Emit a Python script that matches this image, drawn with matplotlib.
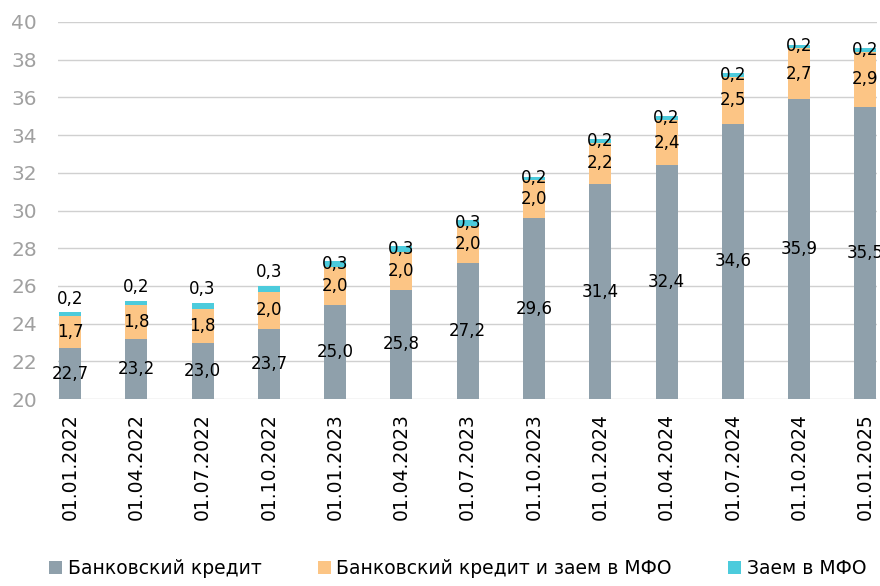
#! /usr/bin/env python3

import numpy as np
import matplotlib.pyplot as plt

# Stacked bars: bank credit, bank credit + MFO loan, MFO loan (from 20 baseline)
dates = ["01.01.2022", "01.04.2022", "01.07.2022", "01.10.2022",
         "01.01.2023", "01.04.2023", "01.07.2023", "01.10.2023",
         "01.01.2024", "01.04.2024", "01.07.2024", "01.10.2024",
         "01.01.2025"]
bank = [22.7, 23.2, 23.0, 23.7, 25.0, 25.8, 27.2, 29.6, 31.4, 32.4, 34.6, 35.9, 35.5]
bank_mfo = [1.7, 1.8, 1.8, 2.0, 2.0, 2.0, 2.0, 2.0, 2.2, 2.4, 2.5, 2.7, 2.9]
mfo = [0.2, 0.2, 0.3, 0.3, 0.3, 0.3, 0.3, 0.2, 0.2, 0.2, 0.2, 0.2, 0.2]
series_names = ["Банковский кредит", "Банковский кредит и заем в МФО", "Заем в МФО"]

colors = ["#8fa0ab", "#fcc585", "#4ccbdc"]
base = 20

plt.rcParams['font.family'] = ['DejaVu Sans']

fig = plt.figure(figsize=(8.8, 5.86), dpi=100)
ax = fig.add_axes([0.066, 0.319, 0.931, 0.6435])

x = np.arange(len(dates))
w = 0.33
bank = np.array(bank)
bank_mfo = np.array(bank_mfo)
mfo = np.array(mfo)

ax.bar(x, bank - base, w, bottom=base, color=colors[0], label=series_names[0], zorder=3)
ax.bar(x, bank_mfo, w, bottom=bank, color=colors[1], label=series_names[1], zorder=3)
ax.bar(x, mfo, w, bottom=bank + bank_mfo, color=colors[2], label=series_names[2], zorder=3)

def fmt(v):
    return f"{v:.1f}".replace(".", ",")

fs = 12
for i in range(len(x)):
    ax.text(x[i], (base + bank[i]) / 2, fmt(bank[i]), ha="center", va="center",
            fontsize=fs, zorder=4)
    ax.text(x[i], bank[i] + bank_mfo[i] / 2, fmt(bank_mfo[i]), ha="center", va="center",
            fontsize=fs, zorder=4)
    top = bank[i] + bank_mfo[i]
    if i < 4:
        ax.text(x[i], top + mfo[i] + 0.25, fmt(mfo[i]), ha="center", va="bottom",
                fontsize=fs, zorder=4)
    else:
        ax.text(x[i], top + mfo[i] / 2, fmt(mfo[i]), ha="center", va="center",
                fontsize=fs, zorder=4)

ax.set_ylim(20, 40)
ax.set_yticks(np.arange(20, 41, 2))
ax.set_xlim(-0.18, 12.18)
ax.set_xticks(x)
ax.set_xticklabels(dates, rotation=90, fontsize=13.5)
ax.tick_params(axis="y", colors="#a0a0a0", labelsize=14.5, length=0, pad=15)
ax.tick_params(axis="x", length=0, pad=10)
ax.grid(axis="y", color="#d0d0d0", linewidth=1, zorder=0)
for s in ax.spines.values():
    s.set_visible(False)

fig.legend(loc="lower center", bbox_to_anchor=(0.52, -0.015), ncol=3, frameon=False,
           fontsize=13.5, handlelength=0.7, handleheight=0.7, handletextpad=0.3,
           columnspacing=3.0)

fig.savefig("out.png", dpi=100)
